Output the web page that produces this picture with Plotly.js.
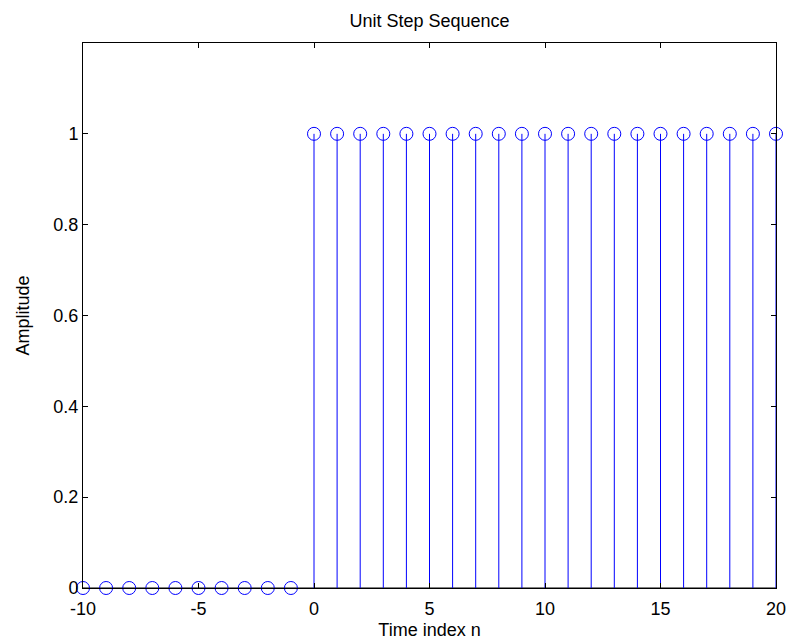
<!DOCTYPE html>
<html><head><meta charset="utf-8">
<script src="https://cdn.plot.ly/plotly-3.0.1.min.js"></script>
<style>body{margin:0;background:#fff}#plot{width:789px;height:643px}</style>
</head><body><div id="plot"></div>
<script>
const n = [-10,-9,-8,-7,-6,-5,-4,-3,-2,-1,0,1,2,3,4,5,6,7,8,9,10,11,12,13,14,15,16,17,18,19,20];
const u = [0,0,0,0,0,0,0,0,0,0,1,1,1,1,1,1,1,1,1,1,1,1,1,1,1,1,1,1,1,1,1];
const xTicks = [-10,-5,0,5,10,15,20];
const yTicks = [0,0.2,0.4,0.6,0.8,1];
const yTickText = ['0','0.2','0.4','0.6','0.8','1'];

const sx = [], sy = [];
n.forEach((v,i)=>{ sx.push(v,v,null); sy.push(0,u[i],null); });

const blue = '#0000ff';
const font = {family:'Liberation Sans, Arial, sans-serif', size:18, color:'#000'};
const data = [
  {x:[n[0], n[n.length-1]], y:[0,0], mode:'lines', line:{color:'#000', width:1}, hoverinfo:'skip', cliponaxis:false},
  {x:sx, y:sy, mode:'lines', line:{color:blue, width:1}, hoverinfo:'skip'},
  {x:n, y:u, mode:'markers', cliponaxis:false,
   marker:{symbol:'circle-open', size:13, color:blue, line:{color:blue, width:1}}}
];
const layout = {
  width:789, height:643, showlegend:false,
  margin:{l:83, r:13, t:43, b:55},
  paper_bgcolor:'#fff', plot_bgcolor:'#fff', font:font,
  title:{text:'Unit Step Sequence', font:{family:font.family, size:18, color:'#000'}, x:0.5, xref:'paper', y:1, yref:'paper', yanchor:'bottom', pad:{b:16}},
  xaxis:{range:[-10,20], tickvals:xTicks, ticktext:xTicks.map(String), ticks:'inside', ticklen:5, tickcolor:'#000',
    ticklabelstandoff:4,
    showline:true, linecolor:'#000', linewidth:1, mirror:'ticks', showgrid:false, zeroline:false,
    tickfont:font, title:{text:'Time index n', font:font, standoff:5}},
  yaxis:{range:[0,1.2], tickvals:yTicks, ticktext:yTickText, ticks:'inside', ticklen:5, tickcolor:'#000',
    showline:true, linecolor:'#000', linewidth:1, mirror:'ticks', showgrid:false, zeroline:false,
    tickfont:font, title:{text:'Amplitude', font:font, standoff:19}}
};
Plotly.newPlot('plot', data, layout, {displayModeBar:false, staticPlot:true});
</script></body></html>
